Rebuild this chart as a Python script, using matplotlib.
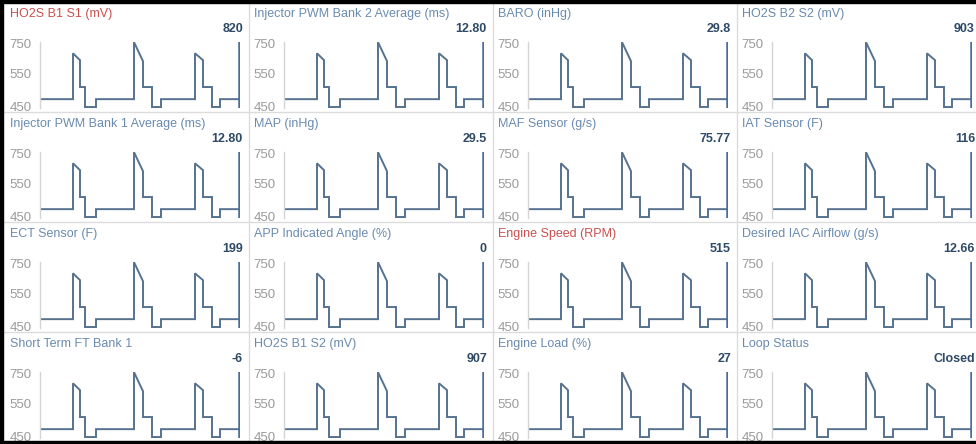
#!/usr/bin/env python3
"""
스캔툴 라이브 데이터 대시보드 (4x4 미니 차트) 재현
"""

import matplotlib
matplotlib.use("Agg")
import matplotlib.pyplot as plt
from matplotlib.patches import Rectangle
from matplotlib.lines import Line2D
import numpy as np

# 패널 제목 / 현재 값 (행 우선)
TITLES = [
    "HO2S B1 S1 (mV)", "Injector PWM Bank 2 Average (ms)", "BARO (inHg)", "HO2S B2 S2 (mV)",
    "Injector PWM Bank 1 Average (ms)", "MAP (inHg)", "MAF Sensor (g/s)", "IAT Sensor (F)",
    "ECT Sensor (F)", "APP Indicated Angle (%)", "Engine Speed (RPM)", "Desired IAC Airflow (g/s)",
    "Short Term FT Bank 1", "HO2S B1 S2 (mV)", "Engine Load (%)", "Loop Status",
]
VALUES = [
    "820", "12.80", "29.8", "903",
    "12.80", "29.5", "75.77", "116",
    "199", "0", "515", "12.66",
    "-6", "907", "27", "Closed",
]
HIGHLIGHT = ["HO2S B1 S1 (mV)", "Engine Speed (RPM)"]

# 파형 (모든 패널 동일)
TRACE_X = [0, 33, 33, 40, 40, 45, 45, 56, 56, 94, 94, 103, 103, 112, 112, 121, 121,
           155, 155, 163, 163, 172, 172, 180, 180, 199]
TRACE_Y = [471, 471, 684, 638, 508, 508, 447, 447, 471, 471, 759, 631, 508, 508, 447, 447, 471,
           471, 684, 638, 508, 508, 447, 447, 471, 471]
CURSOR_X = [199, 199]
CURSOR_Y = [444, 760]

Y_TICKS = [450, 550, 750]

# 색상
TITLE_COLOR = "#6a8bb0"
RED_COLOR = "#c9504f"
VALUE_COLOR = "#2e4a66"
LINE_COLOR = "#56728f"
CURSOR_COLOR = "#4a6d9c"
TICK_COLOR = "#9a9a9a"
SPINE_COLOR = "#d4d4d4"
SEP_COLOR = "#dcdcdc"

W, H = 976, 444
COL_STEP, ROW_STEP = 244, 110

# 세로축 눈금 간격이 불균등 -> 구간별 선형 스케일
_SCALE_V = [0, 450, 550, 750, 2000]
_SCALE_P = [-148.5, 0, 33, 63, 250]


def _fwd(v):
    return np.interp(v, _SCALE_V, _SCALE_P)


def _inv(p):
    return np.interp(p, _SCALE_P, _SCALE_V)


def px(x, y):
    """픽셀 -> figure 좌표"""
    return x / W, 1 - y / H


def main():
    plt.rcParams["font.family"] = ["Liberation Sans", "DejaVu Sans"]
    fig = plt.figure(figsize=(W / 100, H / 100), dpi=100)
    fig.patch.set_facecolor("white")

    # 패널 구분선
    for c in range(3):
        x = 249 + COL_STEP * c
        fig.add_artist(Line2D([x / W, x / W], [0, 1], color=SEP_COLOR, lw=1,
                              transform=fig.transFigure))
    for r in range(3):
        y = 1 - (112 + ROW_STEP * r) / H
        fig.add_artist(Line2D([0, 1], [y, y], color=SEP_COLOR, lw=1,
                              transform=fig.transFigure))

    for i, (title, value) in enumerate(zip(TITLES, VALUES)):
        r, c = divmod(i, 4)
        ox, oy = COL_STEP * c, ROW_STEP * r

        left, top = px(40 + ox, 42 + oy)
        right, bottom = px(240 + ox, 108 + oy)
        ax = fig.add_axes([left, bottom, right - left, top - bottom])
        ax.set_yscale("function", functions=(_fwd, _inv))
        ax.plot(TRACE_X, TRACE_Y, color=LINE_COLOR, lw=1.4, solid_joinstyle="miter")
        ax.plot(CURSOR_X, CURSOR_Y, color=CURSOR_COLOR, lw=1.8)
        ax.set_xlim(0, 200)
        ax.set_ylim(444, 760)
        ax.set_yticks(Y_TICKS)
        ax.set_yticklabels([str(t) for t in Y_TICKS])
        ax.yaxis.set_minor_locator(matplotlib.ticker.NullLocator())
        ax.set_xticks([])
        ax.tick_params(axis="y", length=0, pad=6, labelsize=9.5, labelcolor=TICK_COLOR)
        for s in ("top", "right", "bottom"):
            ax.spines[s].set_visible(False)
        ax.spines["left"].set_color(SPINE_COLOR)
        ax.spines["left"].set_linewidth(1)
        ax.patch.set_alpha(0)

        tx, ty = px(10 + ox, 14 + oy)
        color = RED_COLOR if title in HIGHLIGHT else TITLE_COLOR
        fig.text(tx, ty, title, color=color, fontsize=9, ha="left", va="center")
        vx, vy = px(243 + ox, 29 + oy)
        fig.text(vx, vy, value, color=VALUE_COLOR, fontsize=9, fontweight="bold",
                 ha="right", va="center")

    # 검은 테두리 (위/왼쪽/아래)
    for x0, y0, w, h in [(0, 0, W, 3), (0, 0, 3, H), (0, H - 3, W, 3)]:
        bx, by = px(x0, y0 + h)
        fig.add_artist(Rectangle((bx, by), w / W, h / H, color="black",
                                 transform=fig.transFigure, zorder=10))

    fig.savefig("out.png", dpi=100)
    plt.close(fig)


if __name__ == "__main__":
    main()
